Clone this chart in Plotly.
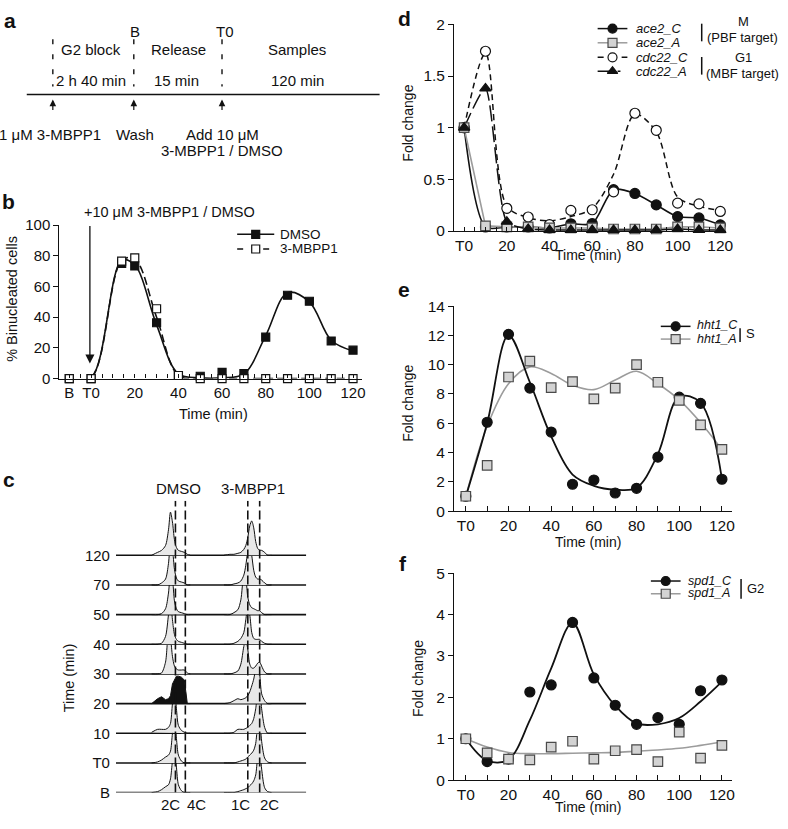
import plotly.graph_objects as go

W, H = 788, 829
FONT = "Liberation Sans, Arial, sans-serif"

# ---------------- data ----------------
# panel b: % binucleated cells
b_time = [-10, 0, 14, 20, 30, 40, 50, 60, 70, 80, 90, 100, 110, 120]
b_dmso = [0, 0, 75, 73.4, 36.4, 2, 1.5, 4, 3.2, 27, 54.3, 50.4, 24.5, 18.5]
b_mbpp = [0, 0, 76.6, 78.7, 45.5, 2, 0, 0, 0, 0, 0, 0, 0, 0]
b_dmso_fit = [0, 0.5, 77, 74, 35, 3, 0.5, 0.5, 3, 28, 56, 50, 25, 18]
b_mbpp_fit = [0, 0.5, 77, 78, 40, 2, 0, 0, 0, 0, 0, 0, 0, 0]
b_tick_vals = list(range(-10, 121, 5))
b_tick_text = ["B", "", "T0", "", "", "", "20", "", "", "", "40", "", "", "", "60",
               "", "", "", "80", "", "", "", "100", "", "", "", "120"]

# panel c: DNA content profiles (counts per channel)
c_rows = ["B", "T0", "10", "20", "30", "40", "50", "70", "120"]
c_dmso_ch = [36, 42, 46, 50, 53, 55, 57, 59, 61, 63, 66, 69, 72, 75]
c_dmso = [
    [0, 1, 3, 6, 8, 14, 32, 44, 26, 8, 2, 0, 0, 0],
    [0, 1, 3, 6, 8, 12, 30, 44, 25, 8, 2, 0, 0, 0],
    [1, 4, 4, 4, 6, 10, 30, 44, 25, 8, 3, 1, 0, 0],
    [0, 5, 7, 4, 5, 8, 20, 25, 28, 28, 27, 24, 0, 0],
    [0, 0, 1, 12, 42, 36, 18, 8, 5, 4, 4, 4, 1, 0],
    [0, 0, 1, 8, 30, 44, 25, 10, 5, 3, 2, 1, 0, 0],
    [0, 0, 1, 6, 22, 42, 36, 14, 6, 3, 2, 1, 0, 0],
    [0, 0, 2, 6, 22, 42, 36, 16, 7, 4, 3, 2, 0, 0],
    [0, 3, 5, 10, 26, 44, 34, 16, 8, 5, 4, 3, 1, 0],
]
c_mbpp_ch = [109, 115, 119, 123, 126, 129, 131, 133, 135, 137, 139, 141, 143, 145, 147, 150, 153, 157]
c_mbpp = [
    [0, 0, 0, 1, 2, 3, 4, 5, 7, 9, 12, 18, 36, 44, 24, 5, 1, 0],
    [0, 0, 0, 1, 2, 3, 4, 6, 8, 10, 13, 20, 38, 44, 22, 5, 1, 0],
    [0, 0, 1, 4, 4, 4, 5, 6, 8, 10, 15, 25, 40, 44, 25, 6, 0, 0],
    [0, 1, 3, 5, 4, 5, 6, 8, 12, 18, 25, 35, 40, 30, 10, 3, 0, 0],
    [0, 0, 1, 3, 10, 28, 36, 25, 10, 6, 6, 8, 11, 12, 8, 2, 0, 0],
    [0, 0, 1, 3, 6, 12, 25, 38, 30, 12, 6, 5, 5, 5, 3, 1, 0, 0],
    [0, 0, 2, 5, 15, 38, 35, 18, 10, 7, 6, 5, 4, 4, 2, 0, 0, 0],
    [0, 0, 1, 2, 4, 10, 20, 34, 40, 30, 15, 8, 6, 6, 5, 2, 0, 0],
    [0, 1, 1, 2, 3, 6, 10, 18, 30, 35, 28, 14, 7, 5, 5, 3, 0, 0],
]
c_black_row = 3            # the 20 min DMSO profile is shaded black
c_guides_ch = [60, 70, 133, 145]
c_guides_txt = ["2C", "4C", "1C", "2C"]

# panels d-f: qPCR time course
t = [0, 10, 20, 30, 40, 50, 60, 70, 80, 90, 100, 110, 120]
ace2_C = [1.0, 0.04, 0.04, 0.04, 0.03, 0.07, 0.073, 0.40, 0.364, 0.253, 0.14, 0.127, 0.06]
ace2_A = [1.0, 0.05, 0.04, 0.04, 0.03, 0.03, 0.03, 0.02, 0.02, 0.02, 0.04, 0.04, 0.03]
cdc22_C = [1.0, 1.74, 0.22, 0.136, 0.063, 0.2, 0.206, 0.38, 1.14, 0.975, 0.27, 0.263, 0.19]
cdc22_A = [1.0, 1.38, 0.09, 0.02, 0.01, 0.01, 0.01, 0.01, 0.01, 0.01, 0.02, 0.01, 0.01]
cdc22_C_fit = [1.0, 1.72, 0.24, 0.13, 0.1, 0.14, 0.22, 0.55, 1.13, 0.96, 0.33, 0.24, 0.2]

hht1_C = [1.02, 6.07, 12.07, 8.4, 5.4, 1.84, 2.13, 1.24, 1.56, 3.69, 7.78, 7.36, 2.18]
hht1_A = [1.02, 3.13, 9.16, 10.24, 8.44, 8.84, 7.67, 8.4, 10.0, 8.8, 7.56, 5.89, 4.22]
hht1_C_fit = [1.0, 6.0, 12.0, 8.8, 5.1, 2.5, 1.73, 1.47, 1.6, 3.9, 7.8, 7.4, 2.2]
hht1_A_fit = [1.0, 5.8, 8.7, 9.85, 9.4, 8.6, 8.3, 8.95, 9.55, 8.7, 7.6, 6.05, 4.2]

spd1_C = [1.0, 0.45, 0.51, 2.13, 2.3, 3.81, 2.47, 1.81, 1.35, 1.51, 1.35, 2.16, 2.42]
spd1_A = [1.0, 0.66, 0.51, 0.49, 0.8, 0.94, 0.51, 0.71, 0.74, 0.45, 1.16, 0.53, 0.84]
spd1_C_fit = [1.0, 0.47, 0.5, 1.45, 2.7, 3.8, 2.55, 1.8, 1.37, 1.35, 1.5, 1.9, 2.38]
spd1_A_fit = [1.0, 0.8, 0.67, 0.64, 0.64, 0.65, 0.66, 0.67, 0.7, 0.73, 0.77, 0.84, 0.92]

t_tick_vals = list(range(0, 121, 10))
t_tick_text = ["T0", "", "20", "", "40", "", "60", "", "80", "", "100", "", "120"]

# ---------------- style ----------------
BLACK = "#111111"
GREY_LINE = "#9c9c9c"
GREY_FILL = "#d3d3d3"
GREY_EDGE = "#4a4a4a"
PROFILE_FILL = "#e8e8e8"
ROW_COUNTS = 30.25   # counts per row spacing in panel c


def fx(px):
    return px / W


def fy(py):
    return 1 - py / H


fig = go.Figure()


def curve(x, y, ax, color=BLACK, width=1.6, dash="solid", shape="spline", smoothing=1.0):
    fig.add_trace(go.Scatter(x=x, y=y, mode="lines", xaxis=ax[0], yaxis=ax[1],
                             line=dict(color=color, width=width, dash=dash, shape=shape,
                                       smoothing=smoothing),
                             hoverinfo="skip", showlegend=False))


def points(x, y, ax, symbol, fill, edge=BLACK, size=10, lw=1.2):
    fig.add_trace(go.Scatter(x=x, y=y, mode="markers", xaxis=ax[0], yaxis=ax[1],
                             marker=dict(symbol=symbol, size=size, color=fill,
                                         line=dict(color=edge, width=lw)),
                             cliponaxis=False, showlegend=False))


# ---------------- panel b ----------------
B = ("x", "y")
curve(b_time, b_dmso_fit, B, width=1.6)
curve(b_time, b_mbpp_fit, B, width=1.6, dash="8px,4px")
points(b_time, b_dmso, B, "square", BLACK, size=8)
points(b_time, b_mbpp, B, "square", "white", size=8)

# ---------------- panel c ----------------
for r in range(len(c_rows)):
    fig.add_trace(go.Scatter(x=[0, 192], y=[r, r], mode="lines", xaxis="x2", yaxis="y2",
                             line=dict(color=BLACK, width=1.6), hoverinfo="skip",
                             showlegend=False))
    for grid, prof, grp in ((c_dmso_ch, c_dmso[r], "dmso"), (c_mbpp_ch, c_mbpp[r], "mbpp")):
        black = grp == "dmso" and r == c_black_row
        fig.add_trace(go.Scatter(
            x=grid, y=[r + h / ROW_COUNTS for h in prof], mode="lines",
            xaxis="x2", yaxis="y2", fill="toself",
            fillcolor=BLACK if black else PROFILE_FILL,
            line=dict(color=BLACK, width=1.0, shape="linear" if black else "spline",
                      smoothing=0.8),
            hoverinfo="skip", showlegend=False))
for g in c_guides_ch:
    fig.add_trace(go.Scatter(x=[g, g], y=[0, 9.84], mode="lines", xaxis="x2", yaxis="y2",
                             line=dict(color=BLACK, width=1.6, dash="9px,4px"),
                             hoverinfo="skip", showlegend=False))

# ---------------- panel d ----------------
D = ("x3", "y3")
curve(t, ace2_C, D, width=1.6, smoothing=0.8)
curve(t, cdc22_C_fit, D, width=1.5, dash="6px,4px", smoothing=0.9)
curve(t, ace2_A, D, color=GREY_LINE, width=1.6, shape="linear")
curve(t, cdc22_A, D, width=1.5, dash="16px,5px", smoothing=0.6)
points(t, ace2_C, D, "circle", BLACK, size=10)
points(t, cdc22_C, D, "circle", "white", size=10)
points(t, ace2_A, D, "square", GREY_FILL, edge=GREY_EDGE, size=9.5)
points(t, cdc22_A, D, "triangle-up", BLACK, size=10)

# ---------------- panel e ----------------
E = ("x4", "y4")
curve(t, hht1_A_fit, E, color=GREY_LINE, width=1.6)
curve(t, hht1_C_fit, E, width=1.8)
points(t, hht1_C, E, "circle", BLACK, size=10)
points(t, hht1_A, E, "square", GREY_FILL, edge=GREY_EDGE, size=9.5)

# ---------------- panel f ----------------
F = ("x5", "y5")
curve(t, spd1_A_fit, F, color=GREY_LINE, width=1.6)
curve(t, spd1_C_fit, F, width=1.8)
points(t, spd1_C, F, "circle", BLACK, size=10)
points(t, spd1_A, F, "square", GREY_FILL, edge=GREY_EDGE, size=9.5)

# ---------------- legends (drawn on a pixel overlay) ----------------
O = ("x6", "y6")


def legend_row(x0, x1, y, symbol, fill, edge, line_color, dash, size=9, xend=None):
    curve([x0, xend if xend else x1], [y, y], O, color=line_color, width=1.5, dash=dash,
          shape="linear")
    points([(x0 + x1) / 2], [y], O, symbol, fill, edge=edge, size=size)


legend_row(239.3, 276.7, 230, "square", BLACK, BLACK, BLACK, "solid", size=8)
legend_row(239.3, 276.7, 245, "square", "white", BLACK, BLACK, "6px,20px", size=8, xend=272)
legend_row(603, 633, 20, "circle", BLACK, BLACK, BLACK, "solid")
legend_row(603, 633, 34.5, "square", GREY_FILL, GREY_EDGE, GREY_LINE, "solid")
legend_row(603, 633, 49.3, "circle", "white", BLACK, BLACK, "6px,18px")
legend_row(603, 633, 63.5, "triangle-up", BLACK, BLACK, BLACK, "14px,6px", xend=626)
legend_row(666.7, 696.7, 324, "circle", BLACK, BLACK, BLACK, "solid")
legend_row(666.7, 696.7, 337, "square", GREY_FILL, GREY_EDGE, GREY_LINE, "solid")
legend_row(656.7, 686.7, 584, "circle", BLACK, BLACK, BLACK, "solid")
legend_row(656.7, 686.7, 597, "square", GREY_FILL, GREY_EDGE, GREY_LINE, "solid")


# ---------------- axes ----------------
def axis(domain, rng, **kw):
    d = dict(domain=domain, range=rng, showgrid=False, zeroline=False, showline=True,
             linecolor=BLACK, linewidth=1.3, ticks="outside", tickcolor=BLACK, tickwidth=1.2,
             ticklen=5, tickfont=dict(size=15, color=BLACK, family=FONT), fixedrange=True)
    d.update(kw)
    return d


tf = dict(size=15.5, color=BLACK, family=FONT)

fig.update_layout(
    xaxis=axis([fx(60), fx(365)], [-14.5, 124], anchor="y", tickmode="array",
               tickvals=b_tick_vals, ticktext=b_tick_text, ticks="inside", ticklen=4),
    yaxis=axis([fy(377.3), fy(220.7)], [0, 100], anchor="x", tickvals=[0, 20, 40, 60, 80, 100]),
    xaxis2=dict(domain=[fx(117), fx(309)], range=[0, 192], anchor="y2", visible=False,
                fixedrange=True),
    yaxis2=dict(domain=[fy(800), fy(502)], range=[0, 9.84], anchor="x2", showgrid=False,
                zeroline=False, showline=False, ticks="", tickmode="array",
                tickvals=list(range(len(c_rows))), ticktext=c_rows, ticklabelstandoff=5,
                tickfont=dict(size=15, color=BLACK, family=FONT), fixedrange=True),
    xaxis3=axis([fx(458.3), fx(733)], [-4.64, 122.9], anchor="y3", tickmode="array",
                tickvals=list(range(0, 121, 5)),
                ticktext=[t_tick_text[i // 2] if i % 2 == 0 else "" for i in range(25)],
                ticks="inside", ticklen=4, tickfont=tf),
    yaxis3=axis([fy(226.7), fy(15.7)], [0, 2], anchor="x3", tickvals=[0, 0.5, 1, 1.5, 2],
                ticktext=["0", "0.5", "1", "1.5", "2"], tickfont=tf),
    xaxis4=axis([fx(458.3), fx(738.3)], [-5.43, 124.6], anchor="y4", tickmode="array",
                tickvals=t_tick_vals, ticktext=t_tick_text, ticks="inside", ticklen=5,
                tickfont=tf),
    yaxis4=axis([fy(512.7), fy(303.3)], [0, 14], anchor="x4", tickvals=list(range(0, 15, 2)),
                tickfont=tf),
    xaxis5=axis([fx(458.3), fx(738.3)], [-5.43, 124.6], anchor="y5", tickmode="array",
                tickvals=t_tick_vals, ticktext=t_tick_text, ticks="inside", ticklen=5,
                tickfont=tf),
    yaxis5=axis([fy(787.3), fy(576)], [0, 5], anchor="x5", tickvals=[0, 1, 2, 3, 4, 5],
                tickfont=tf),
    xaxis6=dict(domain=[0, 1], range=[0, W], anchor="y6", visible=False, fixedrange=True),
    yaxis6=dict(domain=[0, 1], range=[H, 0], anchor="x6", visible=False, fixedrange=True),
)

# ---------------- text ----------------
notes = []


def note(text, x, y, size=15, xanchor="center", angle=0, italic=False, bold=False):
    if italic:
        text = "<i>" + text + "</i>"
    if bold:
        text = "<b>" + text + "</b>"
    notes.append(dict(text=text, x=fx(x), y=fy(y), xref="paper", yref="paper",
                      xanchor=xanchor, yanchor="middle", showarrow=False, textangle=angle,
                      font=dict(size=size, color=BLACK, family=FONT)))


# panel letters
for letter, x, y in (("a", 10, 12), ("b", 9, 197), ("c", 9, 480),
                     ("d", 408, 10), ("e", 408, 286), ("f", 407, 566)):
    note(letter, x, y, size=21, bold=True)

# panel a: schematic
note("B", 136, 23)
note("T0", 226.7, 23)
note("G2 block", 92, 41)
note("Release", 180, 41)
note("Samples", 300, 41)
note("2 h 40 min", 92, 73)
note("15 min", 177.7, 73)
note("120 min", 300, 73)
note("1 \u03bcM 3-MBPP1", 50, 128)
note("Wash", 136, 128)
note("Add 10 \u03bcM", 224, 128)
note("3-MBPP1 / DMSO", 224, 144)

shapes = [dict(type="line", xref="x6", yref="y6", x0=27, x1=383, y0=87.3, y1=87.3,
               line=dict(color=BLACK, width=1.4))]
for xv in (53.3, 135, 224):
    shapes.append(dict(type="line", xref="x6", yref="y6", x0=xv, x1=xv, y0=31, y1=79,
                       line=dict(color=BLACK, width=1.4, dash="5px,10px")))
    notes.append(dict(text="", x=fx(xv), y=fy(92.5), xref="paper", yref="paper",
                      showarrow=True, ax=0, ay=12, arrowhead=2, arrowsize=1.1,
                      arrowwidth=1.2, arrowcolor=BLACK))

# panel b
note("+10 \u03bcM 3-MBPP1 / DMSO", 171, 207, size=14.5)
notes.append(dict(text="", x=fx(90.7), y=fy(362), xref="paper", yref="paper", showarrow=True,
                  ax=0, ay=-139, arrowhead=2, arrowsize=1.4, arrowwidth=1.3,
                  arrowcolor=BLACK))
note("DMSO", 280, 230, size=13.5, xanchor="left")
note("3-MBPP1", 280, 245, size=13.5, xanchor="left")
note("% Binucleated cells", 12, 296, size=14.5, angle=-90)
note("Time (min)", 215, 413, size=14.5)

# panel c
note("DMSO", 180, 490)
note("3-MBPP1", 255, 490)
note("Time (min)", 70, 683, size=14.5, angle=-90)
for txt, xv in zip(c_guides_txt, (171.7, 198, 243, 271.7)):
    note(txt, xv, 812)

# panel d
note("Fold change", 411.7, 117, size=14, angle=-90)
note("Time (min)", 593, 251, size=14)
for txt, yv in (("ace2_C", 20), ("ace2_A", 34.5), ("cdc22_C", 49.3), ("cdc22_A", 63.5)):
    note(txt, 640, yv, size=13, xanchor="left", italic=True)
note("M", 750, 13, size=13)
note("(PBF target)", 749, 29, size=13)
note("G1", 750, 50, size=13)
note("(MBF target)", 749, 65.5, size=13)
shapes.append(dict(type="line", xref="x6", yref="y6", x0=708, x1=708, y0=15, y1=33,
                   line=dict(color=BLACK, width=1.5)))
shapes.append(dict(type="line", xref="x6", yref="y6", x0=708, x1=708, y0=49, y1=67,
                   line=dict(color=BLACK, width=1.5)))

# panel e
note("Fold change", 411.7, 403, size=14, angle=-90)
note("Time (min)", 593.3, 544, size=14)
note("hht1_C", 701, 323, size=12.5, xanchor="left", italic=True)
note("hht1_A", 701, 336.5, size=12.5, xanchor="left", italic=True)
note("S", 751, 331, size=13, xanchor="left")
shapes.append(dict(type="line", xref="x6", yref="y6", x0=746.7, x1=746.7, y0=326, y1=340,
                   line=dict(color=BLACK, width=1.5)))

# panel f
note("Fold change", 421.7, 683, size=14, angle=-90)
note("Time (min)", 593.3, 815, size=14)
note("spd1_C", 691.7, 583.5, size=12.5, xanchor="left", italic=True)
note("spd1_A", 691.7, 596.5, size=12.5, xanchor="left", italic=True)
note("G2", 751.7, 591.5, size=13, xanchor="left")
shapes.append(dict(type="line", xref="x6", yref="y6", x0=747.7, x1=747.7, y0=582, y1=602,
                   line=dict(color=BLACK, width=1.5)))

fig.update_layout(
    width=W, height=H, margin=dict(l=0, r=0, t=0, b=0),
    paper_bgcolor="white", plot_bgcolor="rgba(0,0,0,0)", showlegend=False,
    font=dict(family=FONT, color=BLACK), annotations=notes, shapes=shapes,
)

# pin the figure to the page's top-left corner so it fills the window exactly
pin = ("document.body.style.margin='0';"
       "document.documentElement.style.overflow='hidden';"
       "var gd=document.getElementById('{plot_id}');"
       "gd.style.position='fixed';gd.style.left='0px';gd.style.top='0px';")
fig.write_html("out.html", config={"displayModeBar": False}, post_script=pin)
